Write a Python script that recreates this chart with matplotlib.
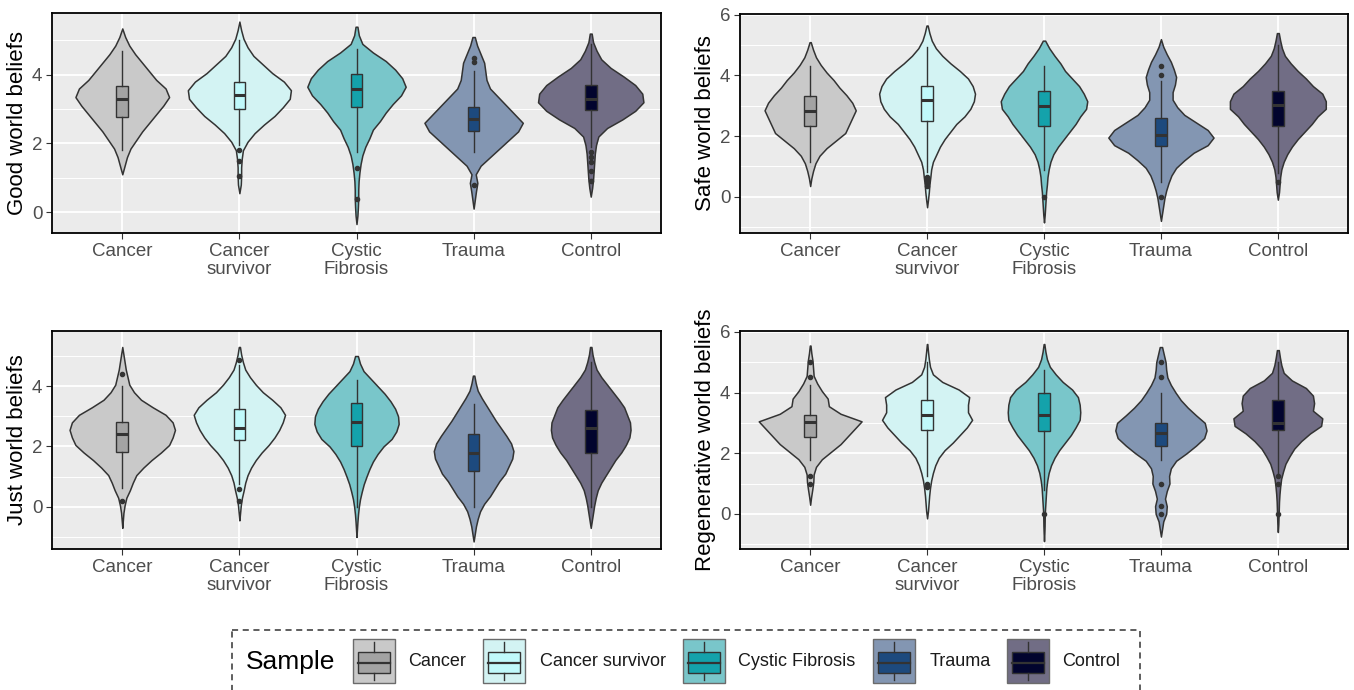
import numpy as np
import matplotlib.pyplot as plt
from matplotlib.patches import Rectangle
from matplotlib.ticker import MultipleLocator

plt.rcParams["font.family"] = ["Liberation Sans", "DejaVu Sans"]

groups = ["Cancer", "Cancer survivor", "Cystic Fibrosis", "Trauma", "Control"]
tick_labels = ["Cancer", "Cancer\nsurvivor", "Cystic\nFibrosis", "Trauma", "Control"]
violin_colors = ["#c9c9c9", "#d3f3f3", "#79c6ca", "#8396b2", "#716d85"]
box_colors = ["#a3a3a3", "#c0f9fb", "#14a2ab", "#1d4a7e", "#02042e"]

# violin half-widths (x units), sampled every `step` upward from each start value
step = 0.25

good_start = [1.1, 0.55, -0.35, 0.1, 0.45]
good_width = [
    [0, 0.02, 0.04, 0.07, 0.12, 0.17, 0.23, 0.29, 0.35, 0.40, 0.37, 0.29, 0.23, 0.17, 0.11, 0.06, 0.025, 0],
    [0, 0.012, 0.015, 0.015, 0.02, 0.03, 0.07, 0.13, 0.21, 0.30, 0.37, 0.43, 0.44, 0.38, 0.28, 0.20, 0.12,
     0.07, 0.035, 0.015, 0],
    [0, 0.008, 0.012, 0.015, 0.015, 0.018, 0.025, 0.035, 0.05, 0.075, 0.11, 0.14, 0.20, 0.25, 0.31, 0.38,
     0.42, 0.39, 0.33, 0.25, 0.14, 0.05, 0.02, 0.008],
    [0, 0.01, 0.02, 0.032, 0.018, 0.06, 0.14, 0.22, 0.30, 0.38, 0.42, 0.35, 0.28, 0.21, 0.14, 0.11, 0.10,
     0.09, 0.06, 0.03, 0.01],
    [0, 0.012, 0.02, 0.025, 0.03, 0.035, 0.045, 0.065, 0.14, 0.27, 0.38, 0.45, 0.44, 0.38, 0.28, 0.17, 0.09,
     0.05, 0.02, 0.008],
]
# (q1, median, q3, lower whisker, upper whisker)
good_box = [(2.77, 3.3, 3.68, 1.8, 4.7), (3.0, 3.42, 3.8, 1.95, 5.0), (3.05, 3.6, 4.02, 1.76, 4.75),
            (2.35, 2.72, 3.07, 1.76, 4.12), (2.97, 3.29, 3.69, 1.9, 4.9)]
good_fliers = [[], [1.8, 1.5, 1.05], [1.28, 0.38], [4.36, 4.49, 0.79], [1.75, 1.6, 1.45, 1.2, 0.9]]

safe_start = [0.35, -0.35, -0.85, -0.8, -0.1]
safe_width = [
    [0, 0.01, 0.025, 0.045, 0.08, 0.14, 0.22, 0.30, 0.33, 0.36, 0.39, 0.36, 0.31, 0.25, 0.20, 0.14, 0.09,
     0.05, 0.025, 0.005],
    [0, 0.008, 0.015, 0.02, 0.028, 0.035, 0.05, 0.08, 0.11, 0.15, 0.20, 0.25, 0.32, 0.37, 0.40, 0.41, 0.39,
     0.35, 0.28, 0.20, 0.13, 0.075, 0.04, 0.02, 0.005],
    [0, 0.006, 0.01, 0.014, 0.018, 0.025, 0.03, 0.04, 0.055, 0.08, 0.12, 0.17, 0.22, 0.27, 0.31, 0.36, 0.37,
     0.34, 0.30, 0.24, 0.18, 0.14, 0.09, 0.045, 0.01],
    [0, 0.01, 0.02, 0.03, 0.045, 0.065, 0.09, 0.13, 0.20, 0.28, 0.40, 0.45, 0.40, 0.30, 0.20, 0.14, 0.10,
     0.10, 0.12, 0.13, 0.11, 0.085, 0.05, 0.02, 0],
    [0, 0.01, 0.015, 0.02, 0.03, 0.05, 0.08, 0.12, 0.17, 0.23, 0.29, 0.34, 0.41, 0.41, 0.38, 0.30, 0.24,
     0.17, 0.11, 0.06, 0.035, 0.02, 0.008],
]
safe_box = [(2.32, 2.84, 3.33, 1.15, 4.3), (2.49, 3.19, 3.65, 0.8, 4.95), (2.33, 3.0, 3.5, 0.87, 4.3),
            (1.67, 2.02, 2.59, 0.49, 3.83), (2.32, 3.03, 3.48, 0.77, 5.0)]
safe_fliers = [[], [0.65, 0.55, 0.45, 0.35], [0.0], [4.32, 4.01, 0.0], [0.5]]

just_start = [-0.7, -0.45, -1.0, -1.15, -0.7]
just_width = [
    [0, 0.005, 0.01, 0.02, 0.035, 0.065, 0.09, 0.12, 0.18, 0.25, 0.33, 0.40, 0.43, 0.45, 0.43, 0.37, 0.26,
     0.16, 0.10, 0.06, 0.045, 0.03, 0.02, 0.01, 0],
    [0, 0.006, 0.012, 0.022, 0.037, 0.05, 0.07, 0.10, 0.14, 0.19, 0.25, 0.30, 0.34, 0.37, 0.39, 0.35, 0.28,
     0.20, 0.14, 0.09, 0.05, 0.03, 0.015, 0.005],
    [0, 0.004, 0.008, 0.013, 0.02, 0.03, 0.045, 0.062, 0.085, 0.11, 0.14, 0.18, 0.23, 0.30, 0.34, 0.36,
     0.355, 0.33, 0.29, 0.24, 0.18, 0.12, 0.06, 0.03, 0.012],
    [0, 0.01, 0.02, 0.035, 0.055, 0.09, 0.14, 0.18, 0.22, 0.27, 0.30, 0.33, 0.34, 0.32, 0.28, 0.235, 0.19,
     0.15, 0.11, 0.07, 0.035, 0.018, 0.006],
    [0, 0.01, 0.02, 0.03, 0.043, 0.06, 0.09, 0.13, 0.17, 0.21, 0.26, 0.30, 0.33, 0.34, 0.335, 0.31, 0.285,
     0.24, 0.19, 0.14, 0.09, 0.05, 0.03, 0.015, 0.006],
]
just_box = [(1.82, 2.41, 2.82, 0.61, 4.0), (2.21, 2.61, 3.23, 0.77, 4.7), (2.01, 2.82, 3.43, 0.0, 4.22),
            (1.19, 1.8, 2.41, 0.0, 3.4), (1.8, 2.61, 3.2, 0.0, 4.8)]
just_fliers = [[4.4, 0.2], [4.86, 0.6, 0.2], [], [], []]

regen_start = [0.3, -0.15, -0.9, -0.75, -0.6]
regen_width = [
    [0, 0.008, 0.018, 0.027, 0.03, 0.05, 0.10, 0.18, 0.26, 0.32, 0.38, 0.44, 0.26, 0.16, 0.15, 0.10, 0.06,
     0.03, 0.025, 0.02, 0.01, 0.003],
    [0, 0.008, 0.013, 0.018, 0.025, 0.035, 0.05, 0.07, 0.10, 0.15, 0.22, 0.28, 0.34, 0.385, 0.35, 0.35,
     0.36, 0.27, 0.13, 0.05, 0.025, 0.015, 0.008, 0.002],
    [0, 0.003, 0.005, 0.006, 0.008, 0.012, 0.016, 0.02, 0.028, 0.04, 0.06, 0.09, 0.13, 0.18, 0.23, 0.27,
     0.305, 0.31, 0.305, 0.29, 0.24, 0.16, 0.10, 0.05, 0.025, 0.012, 0.003],
    [0, 0.01, 0.02, 0.045, 0.05, 0.035, 0.05, 0.073, 0.07, 0.085, 0.13, 0.22, 0.30, 0.37, 0.39, 0.375,
     0.30, 0.23, 0.17, 0.125, 0.085, 0.055, 0.045, 0.04, 0.025, 0.01],
    [0, 0.004, 0.006, 0.008, 0.01, 0.014, 0.02, 0.028, 0.045, 0.065, 0.10, 0.14, 0.20, 0.275, 0.37, 0.38,
     0.30, 0.31, 0.30, 0.24, 0.12, 0.05, 0.03, 0.018, 0.008],
]
regen_box = [(2.54, 3.04, 3.25, 1.78, 4.24), (2.76, 3.26, 3.77, 1.25, 5.0), (2.74, 3.26, 4.0, 0.8, 4.74),
             (2.24, 2.65, 3.0, 1.78, 4.0), (2.75, 2.98, 3.75, 1.34, 5.0)]
regen_fliers = [[4.5, 5.0, 1.25, 1.0], [1.0, 0.9], [0.0], [5.0, 4.5, 1.0, 0.25, 0.0], [1.25, 1.0, 0.0]]

W, H = 1354, 690
fig = plt.figure(figsize=(W / 100, H / 100), dpi=100)
fig.patch.set_facecolor("white")


def px_axes(left, top, right, bottom):
    return fig.add_axes([left / W, 1 - bottom / H, (right - left) / W, (bottom - top) / H])


def draw_panel(ax, label, starts, widths, boxes, fliers, ylim, yticks, label_x):
    ax.set_facecolor("#ebebeb")
    pos = np.arange(1, len(groups) + 1)

    stats, full_w = [], []
    for s, w, b in zip(starts, widths, boxes):
        w = np.asarray(w, dtype=float)
        coords = s + step * np.arange(len(w))
        stats.append({"coords": coords, "vals": w, "mean": b[1], "median": b[1],
                      "min": coords[0], "max": coords[-1]})
        full_w.append(2 * w.max())
    parts = ax.violin(stats, positions=pos, widths=full_w, showextrema=False)
    for body, fc in zip(parts["bodies"], violin_colors):
        body.set_facecolor(fc)
        body.set_edgecolor("#333333")
        body.set_linewidth(1.1)
        body.set_alpha(1)
        body.set_zorder(2)

    bstats = [{"q1": b[0], "med": b[1], "q3": b[2], "whislo": b[3], "whishi": b[4], "fliers": f}
              for b, f in zip(boxes, fliers)]
    bp = ax.bxp(bstats, positions=pos, widths=0.1, patch_artist=True, showcaps=False,
                manage_ticks=False, zorder=3,
                boxprops=dict(edgecolor="#333333", linewidth=1.0),
                whiskerprops=dict(color="#333333", linewidth=1.0),
                medianprops=dict(color="#333333", linewidth=2.2),
                flierprops=dict(marker="o", markersize=3, markerfacecolor="#333333",
                                markeredgecolor="#333333"))
    for patch, fc in zip(bp["boxes"], box_colors):
        patch.set_facecolor(fc)

    ax.set_xlim(0.4, 5.6)
    ax.set_ylim(*ylim)
    ax.set_xticks(pos)
    ax.set_xticklabels(tick_labels, fontsize=13.5, color="#4d4d4d", linespacing=1.1)
    ax.set_yticks(yticks)
    ax.set_yticklabels([str(t) for t in yticks], fontsize=13.5, color="#4d4d4d")
    ax.yaxis.set_minor_locator(MultipleLocator(1))
    ax.tick_params(which="major", length=4, width=0.8, color="#333333", pad=3)
    ax.tick_params(which="minor", length=0)
    ax.set_axisbelow(True)
    ax.grid(which="major", color="white", linewidth=1.3)
    ax.grid(which="minor", axis="y", color="white", linewidth=0.7)
    for sp in ax.spines.values():
        sp.set_color("black")
        sp.set_linewidth(1.3)
    ax.set_ylabel(label, fontsize=16, color="black", va="center")
    ax.yaxis.set_label_coords(label_x, 0.5)


ax1 = px_axes(52, 13, 661, 233)
draw_panel(ax1, "Good world beliefs", good_start, good_width, good_box, good_fliers,
           (-0.61, 5.8), [0, 2, 4], -0.057)
ax2 = px_axes(740, 14, 1348, 233)
draw_panel(ax2, "Safe world beliefs", safe_start, safe_width, safe_box, safe_fliers,
           (-1.2, 6.03), [0, 2, 4, 6], -0.056)
ax3 = px_axes(52, 331, 661, 549)
draw_panel(ax3, "Just world beliefs", just_start, just_width, just_box, just_fliers,
           (-1.4, 5.83), [0, 2, 4], -0.057)
ax4 = px_axes(740, 331, 1348, 549)
draw_panel(ax4, "Regenerative world beliefs", regen_start, regen_width, regen_box, regen_fliers,
           (-1.16, 6.03), [0, 2, 4, 6], -0.056)

# legend drawn in pixel coordinates on an overlay
lax = fig.add_axes([0, 0, 1, 1])
lax.set_xlim(0, W)
lax.set_ylim(H, 0)
lax.axis("off")
lax.add_patch(Rectangle((232, 630), 908, 90, fill=False, edgecolor="#333333",
                        linewidth=1.1, linestyle=(0, (4, 3))))
lax.text(246, 662, "Sample", fontsize=19, va="center", ha="left", color="black")

key_x = [353, 483, 683, 873, 1007]
text_x = [408, 540, 738, 930, 1062]
for kx, tx, name, vc, bc in zip(key_x, text_x, groups, violin_colors, box_colors):
    lax.add_patch(Rectangle((kx, 639), 42, 44, facecolor=vc, edgecolor="#6b6b6b", linewidth=1.0))
    lax.add_patch(Rectangle((kx + 5, 652), 32, 21, facecolor=bc, edgecolor="#333333", linewidth=1.0))
    lax.plot([kx + 5, kx + 37], [662.5, 662.5], color="#333333", linewidth=1.6)
    lax.plot([kx + 21, kx + 21], [642, 652], color="#333333", linewidth=1.0)
    lax.plot([kx + 21, kx + 21], [673, 680], color="#333333", linewidth=1.0)
    lax.text(tx, 662, name, fontsize=13, va="center", ha="left", color="#1a1a1a")

fig.savefig("out.png", dpi=100)
